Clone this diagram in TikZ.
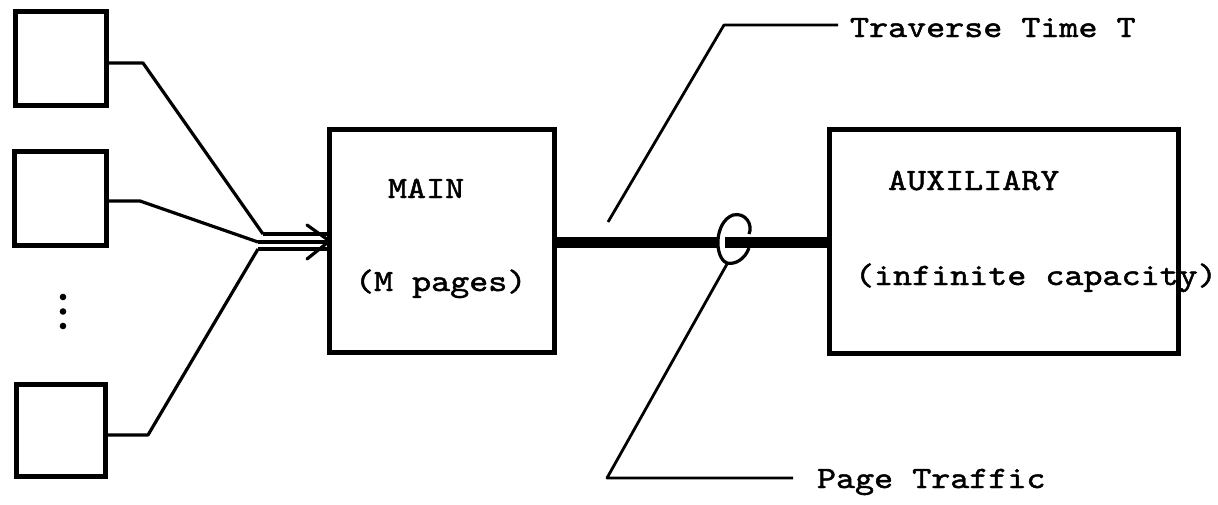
\documentclass[tikz,border=0pt]{standalone}
\usepackage{fontspec}
\newfontfamily\tw[FakeStretch=1.17,FakeBold=1.5]{lmmono10-regular.otf}
\begin{document}
\begin{tikzpicture}[x=1pt,y=-1pt,
  box/.style={draw,line width=5pt,inner sep=0pt,outer sep=0pt},
  conn/.style={line width=3.2pt,line join=round},
  leader/.style={line width=2.8pt,line join=round},
  txt/.style={inner sep=0pt,outer sep=0pt,anchor=base west,font=\tw\fontsize{31}{36}\selectfont}]
\useasboundingbox (0,0) rectangle (1218,504);
% terminals
\node[box,minimum width=91pt,minimum height=94pt] (b1) at (61,58.5) {};
\node[box,minimum width=92pt,minimum height=94pt] (b2) at (60.5,198.5) {};
\node[box,minimum width=89pt,minimum height=92pt] (b3) at (61,430.5) {};
\fill (63,297) circle (3.3pt) (63,311.5) circle (3.3pt) (63,326) circle (3.3pt);
% memories
\node[box,minimum width=225pt,minimum height=223pt] (main) at (442,241) {};
\node[box,minimum width=349pt,minimum height=224pt] (aux) at (1004,241.5) {};
\node[txt] (mainl) at (388,198) {MAIN};
\node[txt] (mainp) at (355,291) {(M pages)};
\node[txt] (auxl) at (888,190) {AUXILIARY};
\node[txt] (auxc) at (855,285) {(infinite capacity)};
% merging connectors
\coordinate (a1) at (263,234);
\coordinate (a2) at (258,242);
\coordinate (a3) at (258,249);
\draw[conn] ([yshift=-4.5pt]b1.east) -- (143,63) -- (a1);
\draw[conn] ([yshift=-2.5pt]b2.east) -- (140,201) -- (a2);
\draw[conn] ([yshift=-4.5pt]b3.east) -- (148,435) -- (a3);
\draw[conn] (a1) -- (a1 -| main.west);
\draw[conn] (a2) -- (a2 -| main.west);
\draw[conn] (a3) -- (a3 -| main.west);
\draw[conn,line cap=round] (307,225) -- ([yshift=0pt]main.west) -- (307,259);
% channel
\coordinate (c1) at (717,242);
\coordinate (c2) at (725,242);
\draw[line width=11pt] (main.east |- c1) -- (c1);
\draw[line width=11pt] (c2) -- (aux.west |- c2);
\draw[line width=3.2pt] (749,248) .. controls (745,259) and (735,265) .. (727,263)
  .. controls (714,258) and (714,222) .. (733,215)
  .. controls (746,212) and (753,225) .. (749,234);
% labels
\node[txt] (trav) at (850,37) {Traverse Time T};
\node[txt] (page) at (817,488) {Page Traffic};
\coordinate (t0) at (608,222);
\coordinate (t1) at (724,25);
\coordinate (t2) at (838,25);
\draw[leader] (t0) -- (t1) -- (t2);
\coordinate (p0) at (727,264);
\coordinate (p1) at (607,478);
\coordinate (p2) at (793,478);
\draw[leader] (p0) -- (p1) -- (p2);
\end{tikzpicture}
\end{document}
